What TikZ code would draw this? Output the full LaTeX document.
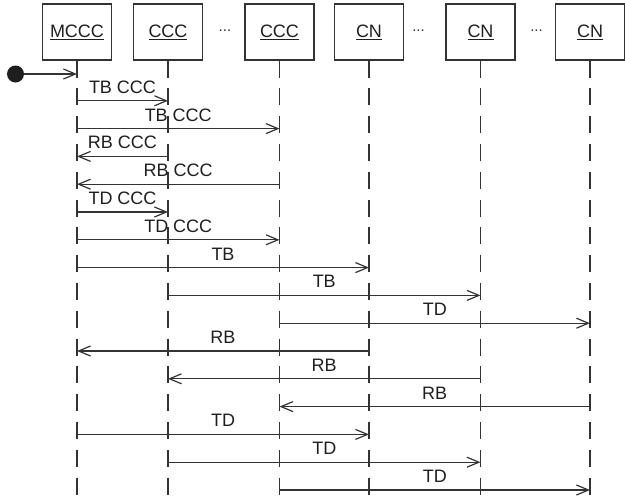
\documentclass[tikz,border=0pt]{standalone}
\usepackage{fontspec}
\setmainfont{Liberation Sans}
\usetikzlibrary{arrows.meta,positioning}
\definecolor{ink}{RGB}{51,51,51}
\definecolor{txt}{RGB}{30,30,30}

\begin{document}
\begin{tikzpicture}[x=1pt,y=-1pt,>={Straight Barb[length=12pt,width=10pt]},
  every node/.style={font=\fontsize{18}{20}\selectfont,text=txt},
  obj/.style={draw=ink,line width=1.2pt,minimum width=69pt,minimum height=56pt,inner sep=0pt},
  life/.style={draw=ink,line width=1.2pt,dash pattern=on 17pt off 10.8pt},
  msg/.style={->,draw=ink,line width=1.2pt},
  lbl/.style={midway,above=7pt,inner sep=0pt,text depth=0pt}]
  \useasboundingbox (0,0) rectangle (625,504);
  % objects
  \node[obj] (mccc) at (77,32) {\underline{MCCC}};
  \node[obj] (ccca) at (168,32) {\underline{CCC}};
  \node[obj] (cccb) at (279.5,32) {\underline{CCC}};
  \node[obj] (cna) at (369,32) {\underline{CN}};
  \node[obj] (cnb) at (480.5,32) {\underline{CN}};
  \node[obj] (cnc) at (590,32) {\underline{CN}};
  \node[font=\fontsize{15}{16}\selectfont,text=ink] (dotsa) at (225,31) {...};
  \node[font=\fontsize{15}{16}\selectfont,text=ink] (dotsb) at (418.5,31) {...};
  \node[font=\fontsize{15}{16}\selectfont,text=ink] (dotsc) at (536.5,31) {...};
  % lifelines
  \draw[life] (mccc.south) -- (mccc.south |- 0,504);
  \draw[life] (ccca.south) -- (ccca.south |- 0,504);
  \draw[life] (cccb.south) -- (cccb.south |- 0,504);
  \draw[life] (cna.south) -- (cna.south |- 0,504);
  \draw[life] (cnb.south) -- (cnb.south |- 0,504);
  \draw[life] (cnc.south) -- (cnc.south |- 0,504);
  % start
  \node[circle,fill=txt,minimum size=17pt,inner sep=0pt] (start) at (15.5,74) {};
  \draw[msg] (start) -- (mccc |- start);
  % messages
  \draw[msg] (mccc |- 0,100.8) -- node[lbl] {TB CCC} (ccca |- 0,100.8);
  \draw[msg] (mccc |- 0,128.6) -- node[lbl] {TB CCC} (cccb |- 0,128.6);
  \draw[msg] (ccca |- 0,156.4) -- node[lbl] {RB CCC} (mccc |- 0,156.4);
  \draw[msg] (cccb |- 0,184.2) -- node[lbl] {RB CCC} (mccc |- 0,184.2);
  \draw[msg] (mccc |- 0,212) -- node[lbl] {TD CCC} (ccca |- 0,212);
  \draw[msg] (mccc |- 0,239.8) -- node[lbl] {TD CCC} (cccb |- 0,239.8);
  \draw[msg] (mccc |- 0,267.6) -- node[lbl] {TB} (cna |- 0,267.6);
  \draw[msg] (ccca |- 0,295.4) -- node[lbl] {TB} (cnb |- 0,295.4);
  \draw[msg] (cccb |- 0,323.2) -- node[lbl] {TD} (cnc |- 0,323.2);
  \draw[msg] (cna |- 0,351) -- node[lbl] {RB} (mccc |- 0,351);
  \draw[msg] (cnb |- 0,378.8) -- node[lbl] {RB} (ccca |- 0,378.8);
  \draw[msg] (cnc |- 0,406.6) -- node[lbl] {RB} (cccb |- 0,406.6);
  \draw[msg] (mccc |- 0,434.4) -- node[lbl] {TD} (cna |- 0,434.4);
  \draw[msg] (ccca |- 0,462.2) -- node[lbl] {TD} (cnb |- 0,462.2);
  \draw[msg] (cccb |- 0,490) -- node[lbl] {TD} (cnc |- 0,490);
\end{tikzpicture}
\end{document}
